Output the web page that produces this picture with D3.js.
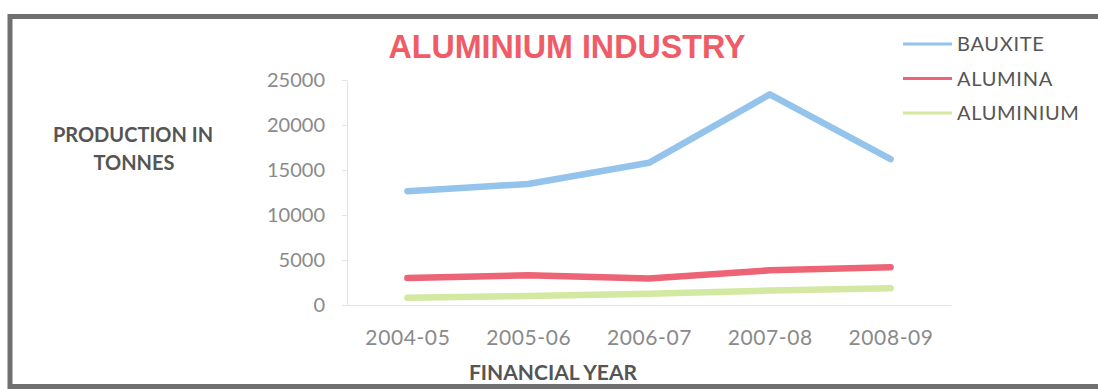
<!DOCTYPE html>
<html>
<head>
<meta charset="utf-8">
<script src="https://cdn.jsdelivr.net/npm/d3@7"></script>
<style>
  body { margin: 0; background: #fff; overflow: hidden; }
  svg { display: block; }
</style>
</head>
<body>
<div id="chart"></div>
<script>
const years = ['2004-05', '2005-06', '2006-07', '2007-08', '2008-09'];
const bauxite = [12650, 13450, 15800, 23400, 16200];
const alumina = [3000, 3300, 2950, 3850, 4200];
const aluminium = [800, 1000, 1250, 1600, 1850];
const yTicks = [0, 5000, 10000, 15000, 20000, 25000];

const series = [
    { name: 'BAUXITE', values: bauxite, color: '#94c3ec' },
    { name: 'ALUMINA', values: alumina, color: '#ec6475' },
    { name: 'ALUMINIUM', values: aluminium, color: '#d3e8a0' }
];

const w = 1098, h = 389;
const svg = d3.select('#chart').append('svg')
    .attr('width', w)
    .attr('height', h);

// outer frame: top, left and bottom edges only (right edge is cut off)
svg.append('path')
    .attr('d', 'M1100,16.5 H10 V386.5 H1100')
    .attr('fill', 'none')
    .attr('stroke', '#707070')
    .attr('stroke-width', 5);

const x = d3.scalePoint()
    .domain(years)
    .range([347, 951])
    .padding(0.5);

const y = d3.scaleLinear()
    .domain([0, 25000])
    .range([305, 80]);

// y axis
const yAxis = svg.append('g')
    .attr('transform', 'translate(347,0)')
    .call(d3.axisLeft(y).tickValues(yTicks).tickFormat(d3.format('d'))
        .tickSize(5).tickSizeOuter(0).tickPadding(17));
yAxis.select('.domain').attr('stroke', '#e4e4e4');
yAxis.selectAll('.tick line').attr('stroke', '#e4e4e4');
yAxis.selectAll('.tick text')
    .style('font-family', 'Lato, sans-serif')
    .style('font-size', '20px')
    .attr('fill', '#8a8a8a');

// x axis
const xAxis = svg.append('g')
    .attr('transform', 'translate(0,305)')
    .call(d3.axisBottom(x).tickSize(0).tickSizeOuter(0).tickPadding(25));
xAxis.select('.domain').attr('stroke', '#e4e4e4');
xAxis.selectAll('.tick text')
    .style('font-family', 'Lato, sans-serif')
    .style('font-size', '21px')
    .style('letter-spacing', '0.6px')
    .attr('fill', '#8a8a8a');

// lines
const line = d3.line()
    .x((d, i) => x(years[i]))
    .y(d => y(d));

svg.selectAll('path.series')
    .data(series)
    .enter()
    .append('path')
    .attr('class', 'series')
    .attr('d', d => line(d.values))
    .attr('fill', 'none')
    .attr('stroke', d => d.color)
    .attr('stroke-width', 6.5)
    .attr('stroke-linejoin', 'round')
    .attr('stroke-linecap', 'round');

// title
svg.append('text')
    .attr('x', 567)
    .attr('y', 58)
    .attr('text-anchor', 'middle')
    .attr('textLength', 357)
    .attr('lengthAdjust', 'spacingAndGlyphs')
    .style('font-family', 'Liberation Sans, Arial, sans-serif')
    .style('font-size', '33px')
    .style('font-weight', 'bold')
    .attr('fill', '#ef5b66')
    .text('ALUMINIUM INDUSTRY');

// axis titles
const yTitle = svg.append('text')
    .attr('text-anchor', 'middle')
    .style('font-family', 'Lato, sans-serif')
    .style('font-size', '20px')
    .style('font-weight', 'bold')
    .attr('fill', '#555');
yTitle.append('tspan').attr('x', 133).attr('y', 142).text('PRODUCTION IN');
yTitle.append('tspan').attr('x', 134).attr('y', 170).text('TONNES');

svg.append('text')
    .attr('x', 553)
    .attr('y', 380)
    .attr('text-anchor', 'middle')
    .style('font-family', 'Lato, sans-serif')
    .style('font-size', '21px')
    .style('font-weight', 'bold')
    .attr('fill', '#555')
    .text('FINANCIAL YEAR');

// legend
const legend = svg.append('g')
    .attr('transform', 'translate(903,44)');

series.forEach((s, i) => {
    const yOffset = i * 34.5;
    legend.append('line')
        .attr('x1', 0)
        .attr('x2', 49)
        .attr('y1', yOffset)
        .attr('y2', yOffset)
        .attr('stroke', s.color)
        .attr('stroke-width', 3);
    legend.append('text')
        .attr('x', 54)
        .attr('y', yOffset + 7)
        .style('font-family', 'Lato, sans-serif')
        .style('font-size', '20px')
        .style('letter-spacing', '0.7px')
        .attr('fill', '#555')
        .text(s.name);
});
</script>
</body>
</html>
